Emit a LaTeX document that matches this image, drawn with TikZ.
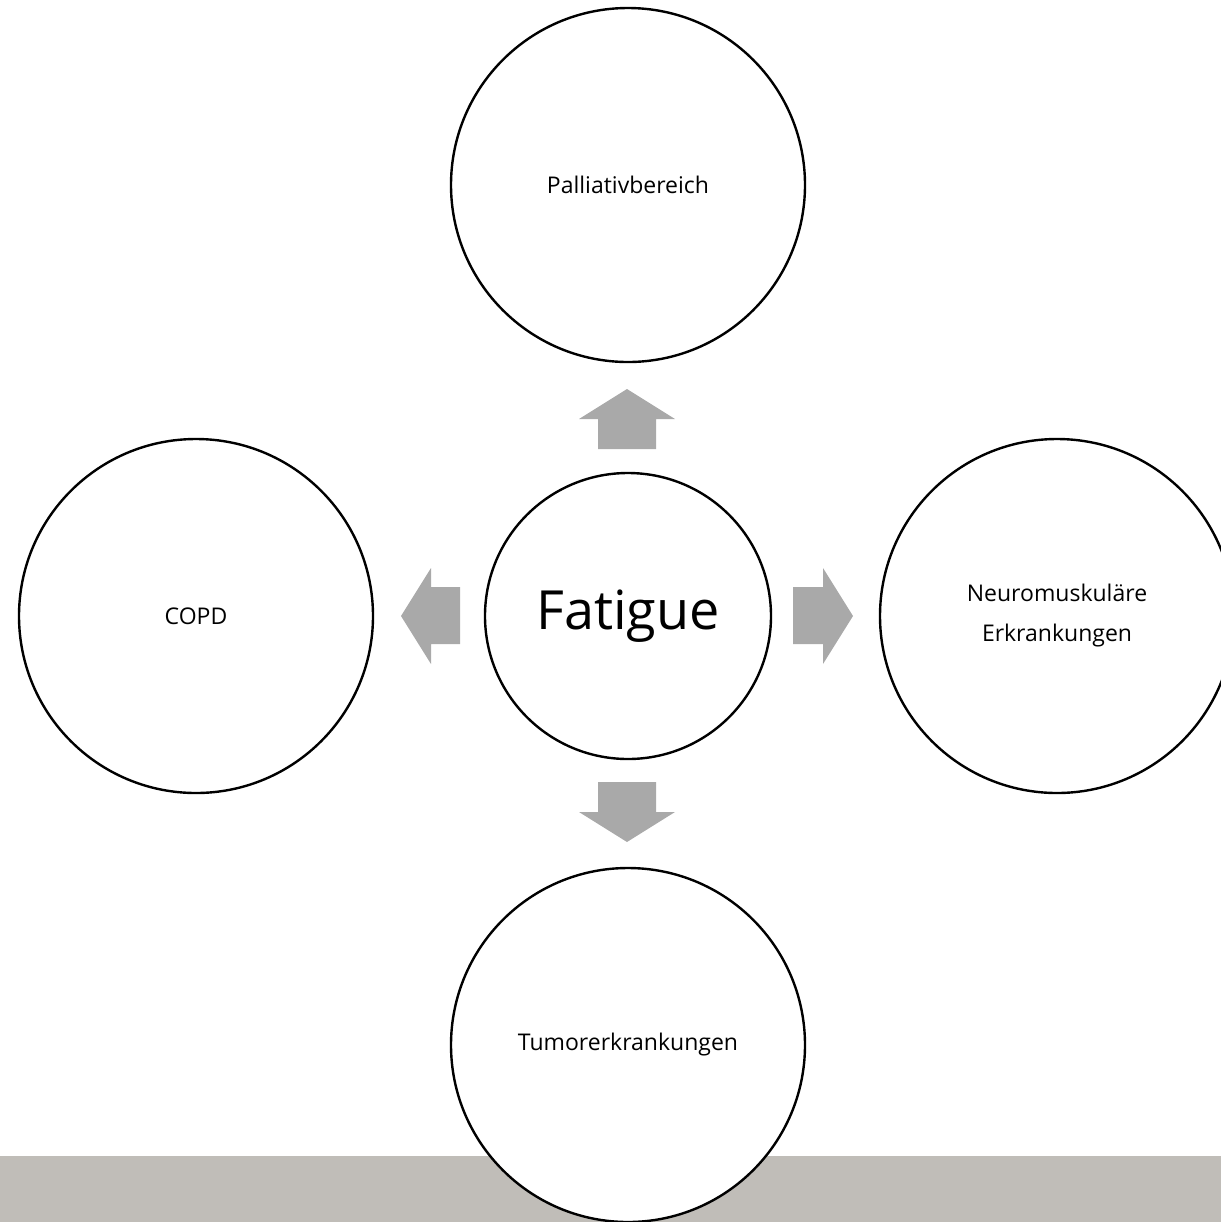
\documentclass[tikz,border=0pt]{standalone}
\usepackage{fontspec}
\setmainfont{Open Sans}
\definecolor{arrowgray}{HTML}{A9A9A9}
\definecolor{bandgray}{HTML}{C0BDB8}
\begin{document}
\begin{tikzpicture}[x={(0.5pt,0)},y={(0,-0.5pt)},
  bigc/.style={circle,draw=black,line width=1.2pt,fill=white,minimum size=177pt,inner sep=0pt,font=\fontsize{11.5pt}{20pt}\selectfont,align=center},
  midc/.style={circle,draw=black,line width=1.2pt,fill=white,minimum size=143pt,inner sep=0pt,font=\fontsize{27pt}{32pt}\selectfont},
  blockarrow/.style={fill=arrowgray,draw=none}]
\useasboundingbox (0,0) rectangle (1221,1222);
\clip (0,0) rectangle (1221,1222);
\fill[bandgray] (0,1156) rectangle (1221,1222);
\node[midc] (fat) at (628,616) {Fatigue};
\node[bigc] (pal) at (628,185) {Palliativbereich};
\node[bigc] (copd) at (196,616) {COPD};
\node[bigc] (neuro) at (1057,616) {Neuromuskuläre\\Erkrankungen};
\node[bigc] (tum) at (628,1045) {Tumorerkrankungen};
% up
\fill[blockarrow] (598,449) -- (598,419) -- (579,419) -- (627,389) -- (675,419) -- (656,419) -- (656,449) -- cycle;
% down
\fill[blockarrow] (598,782) -- (598,812) -- (579,812) -- (627,842) -- (675,812) -- (656,812) -- (656,782) -- cycle;
% left
\fill[blockarrow] (460,587) -- (431,587) -- (431,568) -- (401,616) -- (431,664) -- (431,644) -- (460,644) -- cycle;
% right
\fill[blockarrow] (793,587) -- (823,587) -- (823,568) -- (853,616) -- (823,664) -- (823,644) -- (793,644) -- cycle;
\end{tikzpicture}
\end{document}
